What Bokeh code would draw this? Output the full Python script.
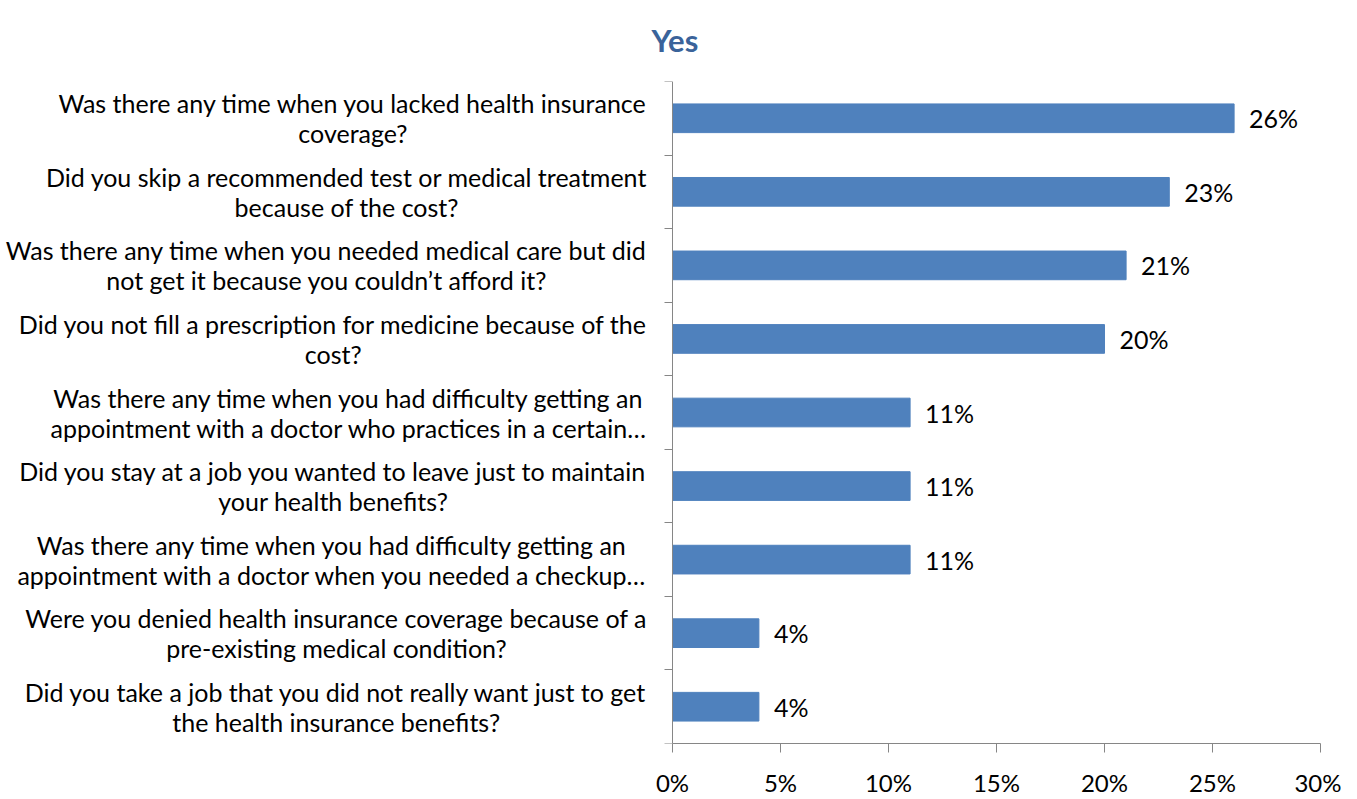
from bokeh.plotting import figure
from bokeh.models import FixedTicker, NumeralTickFormatter, ColumnDataSource, Range1d, Title
from bokeh.core.properties import value
from bokeh.embed import file_html
from bokeh.resources import INLINE

title = "Yes"
categories = [
    "Was there any time when you lacked health insurance\ncoverage?",
    "Did you skip a recommended test or medical treatment\nbecause of the cost?",
    "Was there any time when you needed medical care but did\nnot get it because you couldn\u2019t afford it?",
    "Did you not fill a prescription for medicine because of the\ncost?",
    "Was there any time when you had difficulty getting an\nappointment with a doctor who practices in a certain\u2026",
    "Did you stay at a job you wanted to leave just to maintain\nyour health benefits?",
    "Was there any time when you had difficulty getting an\nappointment with a doctor when you needed a checkup\u2026",
    "Were you denied health insurance coverage because of a\npre-existing medical condition?",
    "Did you take a job that you did not really want just to get\nthe health insurance benefits?",
]
values = [26, 23, 21, 20, 11, 11, 11, 4, 4]
x_ticks = [0, 5, 10, 15, 20, 25, 30]

n = len(categories)
ypos = [n - i - 0.5 for i in range(n)]
src = ColumnDataSource(dict(y=ypos, v=values, lab=[f"{v}%" for v in values], cat=categories))

FONT = "Lato"
W, H = 1341, 799
LEFT_PX, RIGHT_B, TOP_B, BOTTOM_B = 672, 21, 80, 54
x_max = x_ticks[-1]
# the frame spans the full width; the value axis starts LEFT_PX pixels in
x_min = -x_max * LEFT_PX / (W - RIGHT_B - LEFT_PX)

p = figure(width=W, height=H, x_range=Range1d(x_min, x_max), y_range=Range1d(0, n),
           output_backend="svg", toolbar_location=None,
           min_border_left=0, min_border_right=RIGHT_B, min_border_top=TOP_B,
           min_border_bottom=BOTTOM_B)
p.outline_line_color = None
p.grid.visible = False

t = Title(text=title, align="left", offset=651, vertical_align="top", standoff=41,
          text_font=FONT, text_font_size="31px", text_font_style="bold",
          text_color="#3A639A")
p.add_layout(t, "above")

p.hbar(y="y", right="v", left=0, height=0.39, source=src, color="#4F81BD", line_color="#4F81BD")
p.text(x="v", y="y", text="lab", source=src, x_offset=15, text_baseline="middle",
       text_align="left", text_font=value(FONT), text_font_size="25px", text_color="#000000")
p.text(x=0, y="y", text="cat", source=src, x_offset=-25, text_baseline="middle",
       text_align="center", anchor=value("center_right"), text_font=value(FONT),
       text_font_size="25px", text_color="#000000", text_line_height=1.0)

# x axis
xa = p.xaxis[0]
xa.bounds = (0, x_max)
xa.ticker = FixedTicker(ticks=x_ticks, minor_ticks=[])
xa.formatter = NumeralTickFormatter(format="0%")
xa.major_label_overrides = {t_: f"{t_}%" for t_ in x_ticks}
xa.axis_line_color = "#868686"
xa.major_tick_line_color = "#868686"
xa.major_tick_in = 0
xa.major_tick_out = 9
xa.minor_tick_line_color = None
xa.major_label_standoff = 15
xa.major_label_text_font = FONT
xa.major_label_text_font_size = "24px"
xa.major_label_text_color = "#000000"

# y axis at x = 0 with ticks on the category boundaries
ya = p.yaxis[0]
ya.fixed_location = 0
ya.ticker = FixedTicker(ticks=[], minor_ticks=list(range(0, n + 1)))
ya.axis_line_color = "#868686"
ya.major_tick_line_color = None
ya.major_tick_in = 0
ya.major_tick_out = 0
ya.minor_tick_line_color = "#868686"
ya.minor_tick_in = 0
ya.minor_tick_out = 8
ya.major_label_text_font_size = "0px"

open("out.html", "w").write(file_html(p, INLINE))
